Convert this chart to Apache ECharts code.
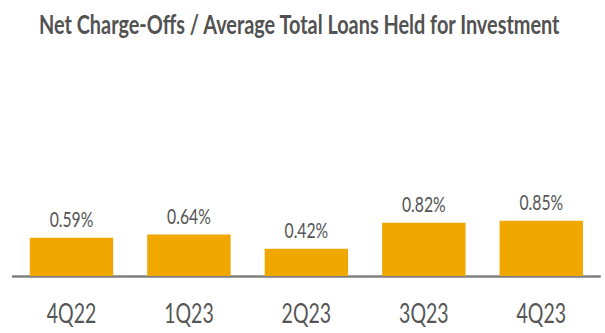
<!DOCTYPE html>
<html>
<head>
<meta charset="utf-8">
<script src="https://cdn.jsdelivr.net/npm/echarts@6/dist/echarts.min.js"></script>
<style>
  html, body { margin: 0; padding: 0; background: #fff; overflow: hidden; }
  #wrap { width: 605px; height: 333px; overflow: hidden; }
  /* condensed look: draw wide, then squeeze horizontally */
  #chart { width: 807px; height: 333px; transform: scaleX(0.75); transform-origin: 0 0; }
</style>
</head>
<body>
<div id="wrap"><div id="chart"></div></div>
<script>
const titleText = 'Net Charge-Offs / Average Total Loans Held for Investment';
const quarters = ['4Q22', '1Q23', '2Q23', '3Q23', '4Q23'];
const chargeOffPct = [0.59, 0.64, 0.42, 0.82, 0.85];

const chart = echarts.init(document.getElementById('chart'), null, { renderer: 'svg' });
chart.setOption({
  animation: false,
  title: {
    text: titleText,
    left: 47,
    top: 5,
    textStyle: { fontFamily: 'Lato', fontSize: 26.5, fontWeight: 'bold', color: '#525252' }
  },
  grid: { left: 17, right: 7, top: 211, bottom: 57 },
  xAxis: {
    type: 'category',
    data: quarters,
    axisLine: { lineStyle: { color: '#7f7f7f', width: 2.5 } },
    axisTick: { alignWithLabel: true, length: 11, lineStyle: { color: '#aaaaaa', width: 1.5 } },
    axisLabel: { fontFamily: 'Lato', fontSize: 26, color: '#555555', margin: 24 }
  },
  yAxis: {
    type: 'value',
    min: 0,
    max: 1,
    show: false,
    splitLine: { show: false }
  },
  series: [{
    type: 'bar',
    data: chargeOffPct,
    barCategoryGap: '29%',
    itemStyle: { color: '#F0A800' },
    label: {
      show: true,
      position: 'top',
      distance: 8,
      formatter: p => p.value.toFixed(2) + '%',
      fontFamily: 'Lato',
      fontSize: 21,
      color: '#555555'
    }
  }]
});
</script>
</body>
</html>
